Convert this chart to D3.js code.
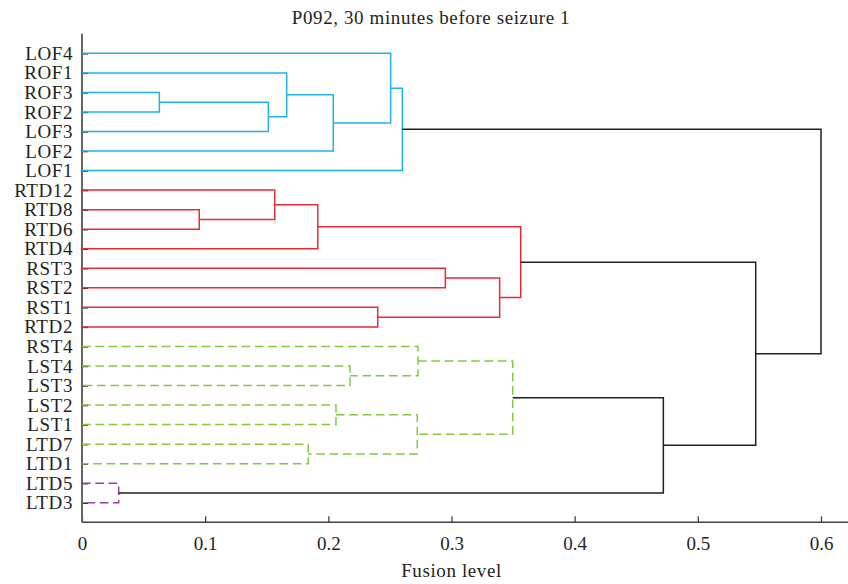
<!DOCTYPE html>
<html>
<head>
<meta charset="utf-8">
<script src="https://cdn.jsdelivr.net/npm/d3@7"></script>
<style>
  body { margin: 0; background: #fff; }
  text { font-family: "Liberation Serif", "Times New Roman", serif; fill: #231f20; }
</style>
</head>
<body>
<div id="chart"></div>
<script>
// leaves, top to bottom
const leaves = ["LOF4", "ROF1", "ROF3", "ROF2", "LOF3", "LOF2", "LOF1",
    "RTD12", "RTD8", "RTD6", "RTD4", "RST3", "RST2", "RST1", "RTD2",
    "RST4", "LST4", "LST3", "LST2", "LST1", "LTD7", "LTD1", "LTD5", "LTD3"];

// linkage: node ids 0..23 are leaves, merge k gets id 24 + k
const mergeLeft  = [2, 24, 1, 26, 0, 28,   8, 7, 31, 11, 13, 33, 32,   16, 15, 18, 20, 39, 38,   22,   42, 36, 29];
const mergeRight = [3, 4, 25, 5, 27, 6,    9, 30, 10, 12, 14, 34, 35,  17, 37, 19, 21, 40, 41,   23,   43, 44, 45];
const mergeHeight = [0.0628, 0.1513, 0.1662, 0.2040, 0.2506, 0.2601,
    0.0952, 0.1565, 0.1914, 0.2950, 0.2401, 0.3391, 0.3562,
    0.2176, 0.2728, 0.2062, 0.1837, 0.2722, 0.3497,
    0.0298,
    0.4720, 0.5470, 0.6000];
const mergeGroup = ["blue", "blue", "blue", "blue", "blue", "blue",
    "red", "red", "red", "red", "red", "red", "red",
    "green", "green", "green", "green", "green", "green",
    "purple",
    "none", "none", "none"];

const xTicks = [0, 0.1, 0.2, 0.3, 0.4, 0.5, 0.6];

const groupStyle = {
    blue:   { color: "#1eb4ea", dash: null },
    red:    { color: "#ec2a32", dash: null },
    green:  { color: "#86c83c", dash: "8.6,4.7" },
    purple: { color: "#9a3f9a", dash: "8.6,4.7" },
    none:   { color: "#231f20", dash: null }
};

const width = 848;
const height = 584;

const svg = d3.select("#chart")
    .append("svg")
    .attr("width", width)
    .attr("height", height);

const x = d3.scaleLinear().domain([0, 0.6]).range([82, 821]);
const y = d3.scaleLinear().domain([0, leaves.length + 1]).range([33.8, 522.3]);
const xEnd = 848;

// node positions: leaves at their order, merges at the mean of children
const nodeY = leaves.map((d, i) => i + 1);
const nodeH = leaves.map(() => 0);
mergeHeight.forEach((h, k) => {
    nodeY.push((nodeY[mergeLeft[k]] + nodeY[mergeRight[k]]) / 2);
    nodeH.push(h);
});

// axes
const yAxis = d3.axisLeft(y)
    .tickValues(leaves.map((d, i) => i + 1))
    .tickFormat(d => leaves[d - 1])
    .tickSizeInner(-6)
    .tickSizeOuter(0)
    .tickPadding(16);

const yAxisG = svg.append("g")
    .attr("transform", `translate(${x(0)},0)`)
    .call(yAxis);
yAxisG.select(".domain").remove();
yAxisG.selectAll(".tick line").attr("stroke", "#333").attr("stroke-width", 1.5);
yAxisG.selectAll(".tick text")
    .attr("font-size", 19)
    .attr("letter-spacing", "0.6px")
    .attr("dx", 7);

const xAxis = d3.axisBottom(x)
    .tickValues(xTicks)
    .tickFormat(d3.format("~g"))
    .tickSizeInner(-6)
    .tickSizeOuter(0)
    .tickPadding(14);

const xAxisG = svg.append("g")
    .attr("transform", `translate(0,${y(leaves.length + 1)})`)
    .call(xAxis);
xAxisG.select(".domain").remove();
xAxisG.selectAll(".tick line").attr("stroke", "#444").attr("stroke-width", 1.3);
xAxisG.selectAll(".tick text")
    .attr("font-size", 19);

// axis frame lines (left and bottom)
svg.append("line")
    .attr("x1", x(0)).attr("x2", x(0))
    .attr("y1", y(0)).attr("y2", y(leaves.length + 1))
    .attr("stroke", "#666").attr("stroke-width", 2);
svg.append("line")
    .attr("x1", x(0)).attr("x2", xEnd)
    .attr("y1", y(leaves.length + 1)).attr("y2", y(leaves.length + 1))
    .attr("stroke", "#444").attr("stroke-width", 1.5);

// dendrogram links
const links = svg.append("g")
    .attr("fill", "none")
    .attr("stroke-width", 1.5);

mergeHeight.forEach((h, k) => {
    const a = mergeLeft[k];
    const b = mergeRight[k];
    const style = groupStyle[mergeGroup[k]];
    links.append("path")
        .attr("d", `M${x(nodeH[a])},${y(nodeY[a])}H${x(h)}V${y(nodeY[b])}H${x(nodeH[b])}`)
        .attr("stroke", style.color)
        .attr("stroke-dasharray", style.dash);
});

// title and axis label
svg.append("text")
    .attr("x", 431)
    .attr("y", 24)
    .attr("text-anchor", "middle")
    .attr("font-size", 19)
    .attr("letter-spacing", "0.6px")
    .text("P092, 30 minutes before seizure 1");

svg.append("text")
    .attr("x", (x(0) + x(0.6)) / 2)
    .attr("y", 577)
    .attr("text-anchor", "middle")
    .attr("font-size", 19)
    .attr("letter-spacing", "0.6px")
    .text("Fusion level");
</script>
</body>
</html>
